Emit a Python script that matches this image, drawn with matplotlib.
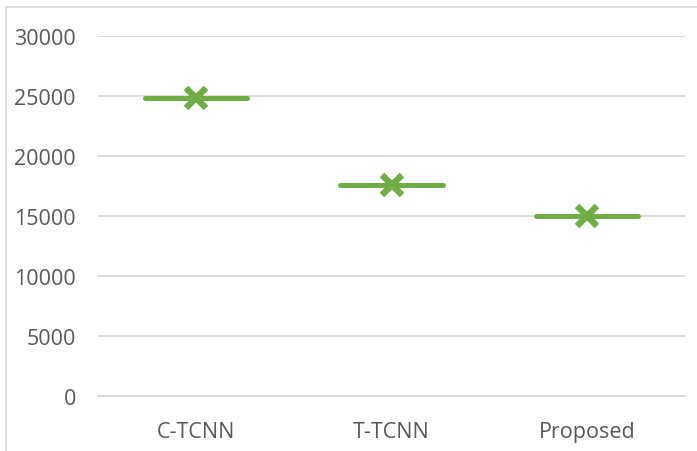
import matplotlib.pyplot as plt
from matplotlib.patches import Rectangle

# values
categories = ['C-TCNN', 'T-TCNN', 'Proposed']
values = [24800, 17550, 15000]
y_ticks = [0, 5000, 10000, 15000, 20000, 25000, 30000]

green = '#70ad47'
grid_col = '#d9d9d9'
text_col = '#595959'

plt.rcParams['font.family'] = ['Open Sans', 'DejaVu Sans']

W, H = 697, 452
fig = plt.figure(figsize=(W / 100, H / 100), dpi=100)

# light chart frame, cut off at the right and bottom like the reference
frame = Rectangle((6 / W, -0.2), 2, (H - 8) / H + 0.2, transform=fig.transFigure,
                  fill=False, ec=grid_col, lw=1.2)
fig.patches.append(frame)

ax = fig.add_axes([98 / W, 1 - 396.7 / H, (685 - 98) / W, 360 / H])
x = list(range(len(categories)))

ax.set_xlim(-0.5, len(categories) - 0.5)
ax.set_ylim(0, 30000)
ax.set_yticks(y_ticks)
ax.set_xticks(x)
ax.set_xticklabels(categories)
ax.yaxis.grid(True, color=grid_col, lw=1.3)
ax.set_axisbelow(True)

for s in ['top', 'right', 'left']:
    ax.spines[s].set_visible(False)
ax.spines['bottom'].set_color(grid_col)
ax.spines['bottom'].set_linewidth(1.3)

ax.tick_params(axis='both', length=0, labelsize=15.5, colors=text_col)
ax.tick_params(axis='y', pad=16)
ax.tick_params(axis='x', pad=18)

half = 0.262
lc = ax.hlines(values, [i - half for i in x], [i + half for i in x],
               color=green, lw=3.6)
lc.set_capstyle('round')
ax.plot(x, values, 'x', color=green, ms=15, mew=4.6, ls='none')

fig.savefig('out.png', dpi=100)
